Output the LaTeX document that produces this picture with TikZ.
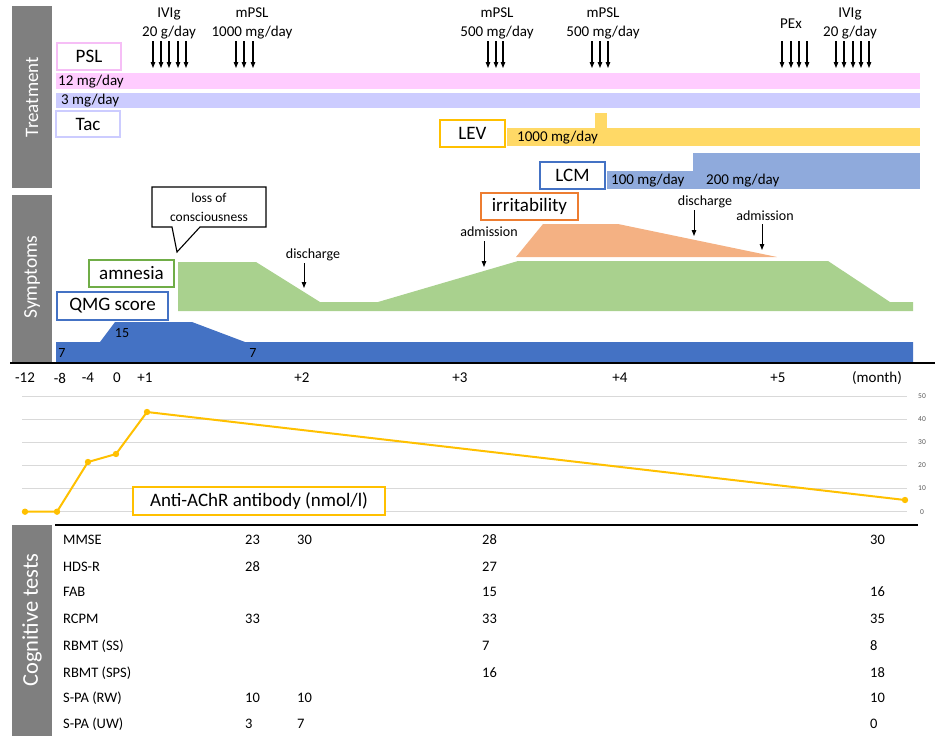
\documentclass[tikz,border=0pt]{standalone}
\usepackage{fontspec}
\setmainfont{Carlito}
\usetikzlibrary{arrows.meta}
\definecolor{sidegray}{HTML}{7F7F7F}
\definecolor{pslpink}{HTML}{FFCCFF}
\definecolor{pslbord}{HTML}{F6BEF6}
\definecolor{taclav}{HTML}{CCCCFF}
\definecolor{levyel}{HTML}{FFD966}
\definecolor{levbord}{HTML}{FFC000}
\definecolor{lcmblue}{HTML}{8FAADC}
\definecolor{darkblue}{HTML}{4472C4}
\definecolor{amgreen}{HTML}{A9D18E}
\definecolor{amgreenb}{HTML}{70AD47}
\definecolor{irrorange}{HTML}{F4B183}
\definecolor{irrbord}{HTML}{ED7D31}
\definecolor{gridgray}{HTML}{D9D9D9}
\definecolor{ticktext}{HTML}{595959}
\definecolor{abline}{HTML}{FFC000}
\begin{document}
\begin{tikzpicture}[x=1pt,y=-1pt,
  sidebar/.style={fill=sidegray,draw=none},
  sidelabel/.style={text=white,rotate=90,font=\fontsize{19}{22}\selectfont,inner sep=0},
  lbl/.style={font=\fontsize{15}{19}\selectfont,inner sep=0,align=center},
  smalllbl/.style={font=\fontsize{14}{17}\selectfont,inner sep=0,align=center},
  boxlbl/.style={draw,line width=1.8pt,fill=white,font=\fontsize{19}{22}\selectfont,inner sep=0},
  dose/.style={line width=1.1pt,-{Triangle[length=6pt,width=4.5pt]}},
  evarrow/.style={line width=1pt,-{Triangle[length=6pt,width=4.5pt]}},
  cogl/.style={font=\fontsize{14.5}{17}\selectfont,inner sep=0,anchor=west},
  tick/.style={font=\fontsize{7.5}{9}\selectfont,text=ticktext,inner sep=0},
]
\useasboundingbox (0,0) rectangle (935,736);

% ---------- side bars ----------
\fill[sidebar] (12,6) rectangle (52,188);
\fill[sidebar] (12,195) rectangle (52,362);
\fill[sidebar] (12,525) rectangle (52,736);
\node[sidelabel] (tTreat) at (32,97) {Treatment};
\node[sidelabel,font=\fontsize{19.5}{22}\selectfont] (tSymp) at (32,277) {Symptoms};
\node[sidelabel,font=\fontsize{22.5}{26}\selectfont] (tCog) at (32,620) {Cognitive tests};

% ---------- treatment bars ----------
\fill[pslpink] (56,73) rectangle (920,89);
\fill[taclav] (56,93) rectangle (920,108);
\node[lbl,anchor=west] (psldose) at (58,81.5) {12 mg/day};
\node[lbl,anchor=west] (tacdose) at (61,101) {3 mg/day};
\node[boxlbl,draw=pslbord,minimum width=64pt,minimum height=27pt] (psl) at (89,56.5) {PSL};
\node[boxlbl,draw=taclav,minimum width=64pt,minimum height=26pt] (tac) at (88,124) {Tac};

\fill[levyel] (507,128) rectangle (920,146);
\fill[levyel] (595,113) rectangle (607,128);
\node[lbl,anchor=west] (levdose) at (517,137.5) {1000 mg/day};
\node[boxlbl,draw=levbord,minimum width=65pt,minimum height=27pt] (lev) at (472.5,133.5) {LEV};

\fill[lcmblue] (607,171) rectangle (693,189);
\fill[lcmblue] (693,153) rectangle (920,189);
\node[lbl,anchor=west] (lcmd1) at (611,181) {100 mg/day};
\node[lbl,anchor=west] (lcmd2) at (706,181) {200 mg/day};
\node[boxlbl,draw=darkblue,minimum width=65pt,minimum height=27pt] (lcm) at (572.5,175.5) {LCM};

% ---------- dose arrows ----------
\node[lbl] (ivig1) at (169,23.5) {IVIg\\20 g/day};
\foreach \x [count=\i] in {153,161,169,178,186} {
  \coordinate (ivA\i) at (\x,41); \coordinate (ivB\i) at (\x,68);
  \draw[dose] (ivA\i) -- (ivB\i);}
\node[lbl] (mpsl1) at (252,23.5) {mPSL\\1000 mg/day};
\foreach \x [count=\i] in {236,244,253} {
  \coordinate (mpA\i) at (\x,41); \coordinate (mpB\i) at (\x,68);
  \draw[dose] (mpA\i) -- (mpB\i);}
\node[lbl] (mpsl2) at (497,23.5) {mPSL\\500 mg/day};
\foreach \x [count=\i] in {488,496,503} {
  \coordinate (mqA\i) at (\x,41); \coordinate (mqB\i) at (\x,68);
  \draw[dose] (mqA\i) -- (mqB\i);}
\node[lbl] (mpsl3) at (603,23.5) {mPSL\\500 mg/day};
\foreach \x [count=\i] in {592,600,608} {
  \coordinate (mrA\i) at (\x,41); \coordinate (mrB\i) at (\x,68);
  \draw[dose] (mrA\i) -- (mrB\i);}
\node[lbl] (pex) at (791,24) {PEx};
\foreach \x [count=\i] in {782,791,799,807} {
  \coordinate (pxA\i) at (\x,41); \coordinate (pxB\i) at (\x,68);
  \draw[dose] (pxA\i) -- (pxB\i);}
\node[lbl] (ivig2) at (850,23.5) {IVIg\\20 g/day};
\foreach \x [count=\i] in {836,844,853,861,869} {
  \coordinate (iwA\i) at (\x,41); \coordinate (iwB\i) at (\x,68);
  \draw[dose] (iwA\i) -- (iwB\i);}

% ---------- symptoms ----------
\fill[amgreen] (178,262) -- (256,262) -- (320,302) -- (378,302) -- (518,261)
  -- (828,261) -- (890,302) -- (913,302) -- (913,311) -- (178,311) -- cycle;
\fill[irrorange] (516,257) -- (543,224) -- (618,224) -- (777,257) -- cycle;
\fill[darkblue] (56,362) -- (56,342) -- (100,342) -- (115,322) -- (192,322)
  -- (245,342) -- (913,342) -- (913,362) -- cycle;
\node[smalllbl] (q7a) at (62,353) {7};
\node[smalllbl] (q15) at (122,333) {15};
\node[smalllbl] (q7b) at (253,353) {7};

\draw[line width=1.1pt,fill=white] (152,187) -- (266,187) -- (266,227) -- (200,227)
  -- (177,252) -- (172,227) -- (152,227) -- cycle;
\node[font=\fontsize{13.5}{19}\selectfont,align=center,inner sep=0] (loc) at (209,207.5) {loss of\\consciousness};

\node[boxlbl,draw=amgreenb,minimum width=85pt,minimum height=27pt] (amn) at (131.5,273.5) {amnesia};
\node[boxlbl,draw=darkblue,minimum width=111pt,minimum height=28pt] (qmg) at (112.5,306) {QMG score};
\node[boxlbl,draw=irrbord,minimum width=97pt,minimum height=27pt] (irr) at (529.5,206.5) {irritability};

\node[smalllbl] (dis1) at (313,255) {discharge};
\coordinate (dis1a) at (304,263); \coordinate (dis1b) at (304,288);
\draw[evarrow] (dis1a) -- (dis1b);
\node[smalllbl] (adm1) at (489,232) {admission};
\coordinate (adm1a) at (484,241); \coordinate (adm1b) at (484,267);
\draw[evarrow] (adm1a) -- (adm1b);
\node[smalllbl] (dis2) at (705,202) {discharge};
\coordinate (dis2a) at (694,210); \coordinate (dis2b) at (694,236);
\draw[evarrow] (dis2a) -- (dis2b);
\node[smalllbl] (adm2) at (765,216) {admission};
\coordinate (adm2a) at (762,224); \coordinate (adm2b) at (762,250);
\draw[evarrow] (adm2a) -- (adm2b);

% ---------- time axis ----------
\coordinate (axL) at (10,363); \coordinate (axR) at (935,363);
\draw[line width=1.5pt] (axL) -- (axR);
\foreach \x/\t [count=\i] in {25/-12,60/-8,88/-4,117/0,145/+1,302/+2,460/+3,620/+4,778/+5,877/(month)}
  \node[lbl] (ax\i) at (\x,378) {\t};

% ---------- antibody graph ----------
\foreach \k in {0,...,5} {
  \coordinate (gL\k) at (22,511.7-23.14*\k); \coordinate (gR\k) at (907,511.7-23.14*\k);
  \draw[gridgray,line width=0.8pt] (gL\k) -- (gR\k);
  \pgfmathtruncatemacro{\v}{10*\k}
  \node[tick] (gt\k) at (922,511.7-23.14*\k) {\v};
}
\coordinate (p1) at (25,511.7);
\coordinate (p2) at (57,511.7);
\coordinate (p3) at (88,462);
\coordinate (p4) at (116,454);
\coordinate (p5) at (147,412);
\coordinate (p6) at (905,500);
\draw[abline,line width=2pt,line join=round] (p1) -- (p2) -- (p3) -- (p4) -- (p5) -- (p6);
\foreach \p in {p1,p2,p3,p4,p5,p6} \fill[abline] (\p) circle (3.2pt);
\node[boxlbl,draw=levbord,line width=1.6pt,minimum width=252pt,minimum height=28pt] (ab) at (259,501) {Anti-AChR antibody (nmol/l)};

\coordinate (bL) at (55,525); \coordinate (bR) at (918,525);
\draw[line width=1.5pt] (bL) -- (bR);

% ---------- cognitive tests ----------
\foreach \y/\n/\a/\b/\c/\d [count=\i] in {
  540/MMSE/23/30/28/30,
  567/HDS-R/28//27/,
  592/FAB///15/16,
  619/RCPM/33//33/35,
  646/RBMT (SS)///7/8,
  673/RBMT (SPS)///16/18,
  698/S-PA (RW)/10/10//10,
  724/S-PA (UW)/3/7//0} {
  \node[cogl] (cn\i) at (63,\y) {\n};
  \node[cogl] (ca\i) at (245,\y) {\a};
  \node[cogl] (cb\i) at (297,\y) {\b};
  \node[cogl] (cc\i) at (482,\y) {\c};
  \node[cogl] (cd\i) at (870,\y) {\d};
}
\end{tikzpicture}
\end{document}
